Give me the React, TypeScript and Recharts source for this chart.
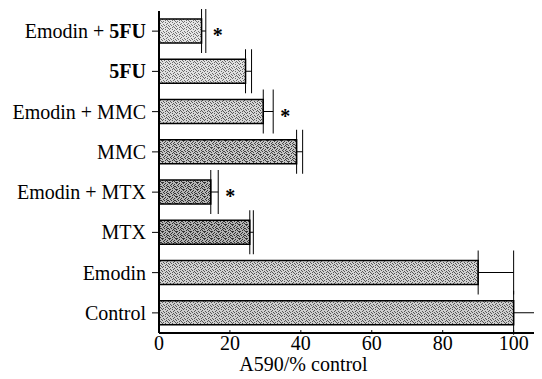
import React from 'react';
import { BarChart, Bar, XAxis, YAxis, ErrorBar, Cell, LabelList } from 'recharts';

const categories = ['Emodin + 5FU', '5FU', 'Emodin + MMC', 'MMC', 'Emodin + MTX', 'MTX', 'Emodin', 'Control'];
const values = [12, 24.4, 29.4, 38.8, 14.6, 25.6, 90, 100];
const errors = [1.2, 1.7, 2.8, 1.7, 2.1, 1.0, 10, 10];
const significant = [true, false, true, false, true, false, false, false];
const xTicks = [0, 20, 40, 60, 80, 100];

const fills = [
  { bg: '#e4e4e4', dot: '#707070' },
  { bg: '#e0e0e0', dot: '#6a6a6a' },
  { bg: '#d6d6d6', dot: '#585858' },
  { bg: '#c6c6c6', dot: '#444444' },
  { bg: '#b6b6b6', dot: '#333333' },
  { bg: '#b2b2b2', dot: '#333333' },
  { bg: '#d2d2d2', dot: '#555555' },
  { bg: '#cecece', dot: '#555555' },
];

// irregular stipple dot positions in a 7x7 tile
const dots = [
  [0, 0], [3, 0], [5, 1], [1, 2], [4, 2], [6, 3], [2, 3], [0, 4], [3, 5], [5, 5], [1, 6], [6, 6], [4, 4],
];

const data = categories.map((name, i) => ({
  name,
  value: values[i],
  err: [0, errors[i]],
  sig: significant[i] ? '*' : '',
}));

const FONT = 'Liberation Serif';

const YTick = (props: any) => {
  const { x, y, payload } = props;
  const label: string = payload.value;
  const parts = label.split('5FU');
  return (
    <text x={x} y={y} dy="0.35em" textAnchor="end" fontFamily={FONT} fontSize={20} fill="#000">
      {parts.length > 1 ? (
        <>
          <tspan>{parts[0]}</tspan>
          <tspan fontWeight="bold">5FU</tspan>
        </>
      ) : (
        label
      )}
    </text>
  );
};

const Star = (props: any) => {
  const { x, y, width, height, index, value } = props;
  if (!value) return null;
  const v = values[index];
  const e = errors[index];
  const end = x + width + (width / v) * e;
  return (
    <text x={end + 12} y={y + height / 2} dy="0.55em" textAnchor="middle" fontFamily={FONT} fontSize={20} fontWeight="bold" fill="#000">
      *
    </text>
  );
};

export default function App() {
  return (
    <BarChart
      width={534}
      height={371}
      data={data}
      layout="vertical"
      margin={{ top: 3, right: 0, bottom: 0, left: 0 }}
    >
      <defs>
        {fills.map((f, i) => (
          <pattern key={i} id={`st${i}`} width={7} height={7} patternUnits="userSpaceOnUse">
            <rect width={7} height={7} fill={f.bg} />
            {dots.map(([dx, dy], k) => (
              <rect key={k} x={dx} y={dy} width={1} height={1} fill={f.dot} />
            ))}
            {i >= 3 && i <= 5 && (
              <>
                <rect x={2} y={1} width={1} height={1} fill={f.dot} />
                <rect x={5} y={3} width={1} height={1} fill={f.dot} />
                <rect x={0} y={6} width={1} height={1} fill={f.dot} />
              </>
            )}
          </pattern>
        ))}
      </defs>
      <XAxis
        type="number"
        domain={[0, 108]}
        ticks={xTicks}
        allowDataOverflow
        height={46}
        axisLine={{ stroke: '#000', strokeWidth: 2 }}
        tickLine={{ stroke: '#000', strokeWidth: 1 }}
        tickSize={-3}
        tickMargin={6}
        tick={{ fontFamily: FONT, fontSize: 20, fill: '#000' }}
        label={{
          value: 'A590/% control',
          position: 'insideBottom',
          offset: 8,
          dx: -47,
          fontFamily: FONT,
          fontSize: 20,
          fill: '#000',
        }}
      />
      <YAxis
        type="category"
        dataKey="name"
        width={151}
        axisLine={{ stroke: '#000', strokeWidth: 2 }}
        tickLine={{ stroke: '#000', strokeWidth: 1 }}
        tickSize={7}
        tickMargin={6}
        interval={0}
        tick={<YTick />}
      />
      <Bar dataKey="value" barSize={24} stroke="#000" strokeWidth={1.5} isAnimationActive={false}>
        {data.map((_, i) => (
          <Cell key={i} fill={`url(#st${i})`} />
        ))}
        <ErrorBar dataKey="err" direction="x" width={22} stroke="#000" strokeWidth={1} />
        <LabelList dataKey="sig" content={<Star />} />
      </Bar>
    </BarChart>
  );
}
